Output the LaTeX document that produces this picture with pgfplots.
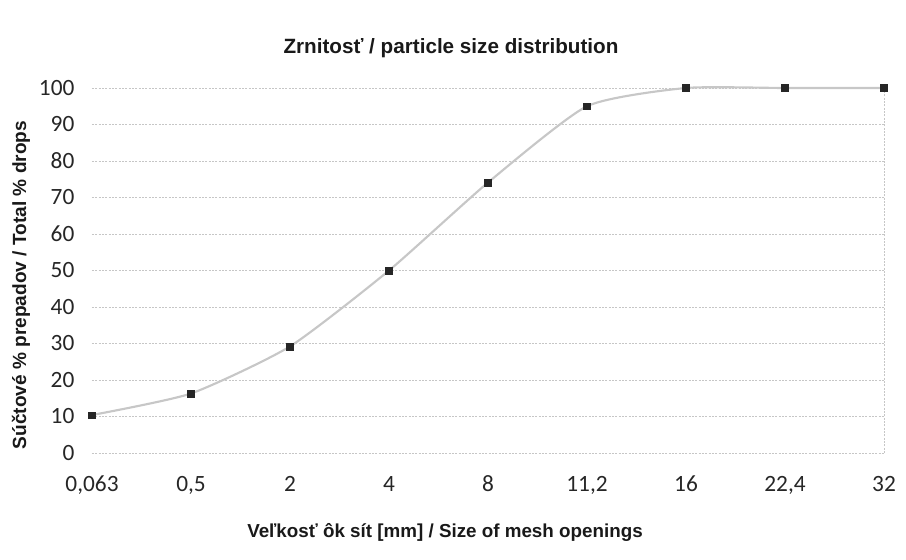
\documentclass[border=0pt]{standalone}
\usepackage{fontspec}
\setmainfont{Carlito}
\newfontfamily\arialf{Liberation Sans}
\usepackage{pgfplots}
\pgfplotsset{compat=1.18}
\begin{document}
\begin{tikzpicture}[x=0.75pt,y=0.75pt]
\path[use as bounding box] (0,0) rectangle (906,560);
\begin{axis}[
  at={(69pt,80.25pt)}, anchor=south west,
  scale only axis, width=594pt, height=273.75pt,
  xmin=0, xmax=8, ymin=0, ymax=100,
  xtick={0,1,2,3,4,5,6,7,8},
  xticklabels={{0,063},{0,5},2,4,8,{11,2},16,{22,4},32},
  ytick={0,10,...,100},
  axis line style={draw=none},
  major tick length=0pt,
  ymajorgrids,
  major grid style={gray!45, dash pattern=on 1.5pt off 1pt, line width=0.6pt},
  /pgf/number format/assume math mode=true,
  tick label style={font=\fontsize{17.5}{19}\selectfont, text=black!85},
  yticklabel style={anchor=east, inner sep=0pt, xshift=-13pt},
  xticklabel style={anchor=base, inner sep=0pt, yshift=-29pt},
  clip=false,
]
\draw[gray!45, dash pattern=on 1.5pt off 1pt, line width=0.6pt] (axis cs:8,0) -- (axis cs:8,100);
\addplot[smooth, tension=0.35, color=black!22, line width=1.6pt, mark=square*, mark size=2.5pt,
  mark options={fill=black!85, draw=black!85, line width=0.3pt}]
  coordinates {(0,10.4) (1,16.3) (2,29.2) (3,50) (4,74.1) (5,95) (6,100) (7,100) (8,100)};
\end{axis}
\node[font=\arialf\bfseries\fontsize{15.5}{17}\selectfont, text=black!90] at (451,512) {Zrnitosť / particle size distribution};
\node[font=\arialf\bfseries\fontsize{14.1}{16}\selectfont, text=black!90] at (445,28) {Veľkosť ôk sít [mm] / Size of mesh openings};
\node[font=\arialf\bfseries\fontsize{14.3}{16}\selectfont, text=black!90, rotate=90] at (21,275) {Súčtové \% prepadov / Total \% drops};
\end{tikzpicture}
\end{document}
